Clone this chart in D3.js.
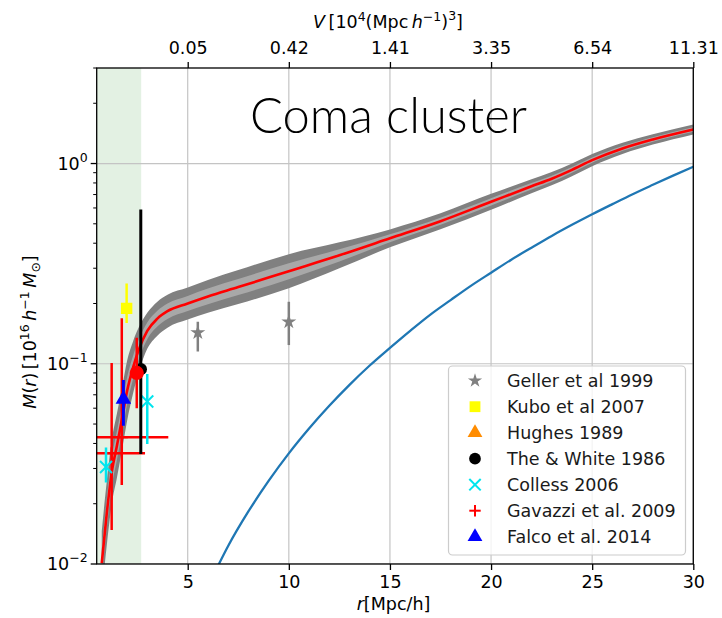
<!DOCTYPE html>
<html>
<head>
<meta charset="utf-8">
<script src="https://cdn.jsdelivr.net/npm/d3@7"></script>
<style>
  body { margin: 0; background: #fff; }
  svg { display: block; }
</style>
</head>
<body>
<svg id="chart" width="722" height="618"></svg>
<script>
// ---------- axis ticks ----------
const xTicks = [5, 10, 15, 20, 25, 30];
const topTickLabels = ["0.05", "0.42", "1.41", "3.35", "6.54", "11.31"];
const yMajorTicks = [0.01, 0.1, 1];
const yMajorExponents = ["−2", "−1", "0"];
const shadedRadius = 2.7;

// ---------- reconstructed mass profile (median and two confidence bands) ----------
const profR  = [0.75, 1.0, 1.25, 1.5, 1.75, 2.0, 2.3, 2.6, 3.0, 3.5, 4.0, 5.0, 6.0, 7.5, 10, 12.5, 15, 17.5, 20, 22, 23, 24, 25, 26.5, 28, 30];
const profM  = [0.0101, 0.018, 0.029, 0.039, 0.053, 0.073, 0.096, 0.119, 0.146, 0.168, 0.183, 0.20, 0.217, 0.2415, 0.29, 0.348, 0.423, 0.515, 0.644, 0.77, 0.84, 0.93, 1.04, 1.19, 1.32, 1.48];
const outerLo = [0.0070, 0.01245, 0.0201, 0.0270, 0.0371, 0.0517, 0.0712, 0.0924, 0.1187, 0.1382, 0.1515, 0.1664, 0.1796, 0.1986, 0.2385, 0.2997, 0.3814, 0.4699, 0.5876, 0.7103, 0.7785, 0.8643, 0.9701, 1.1153, 1.243, 1.3976];
const outerHi = [0.0146, 0.026, 0.0419, 0.0564, 0.0757, 0.1031, 0.1295, 0.1533, 0.1796, 0.2043, 0.2211, 0.2404, 0.2621, 0.2937, 0.3526, 0.404, 0.469, 0.5644, 0.7058, 0.8347, 0.9064, 1.0007, 1.1149, 1.2697, 1.4018, 1.5672];
const innerLo = [0.00856, 0.01525, 0.0246, 0.0331, 0.0451, 0.0624, 0.084, 0.1061, 0.1325, 0.1533, 0.1673, 0.1833, 0.1984, 0.2203, 0.2646, 0.3246, 0.404, 0.4942, 0.618, 0.7418, 0.8116, 0.9003, 1.0097, 1.1576, 1.2865, 1.4425];
const innerHi = [0.0119, 0.0212, 0.0342, 0.046, 0.0623, 0.0853, 0.1097, 0.1335, 0.1609, 0.1841, 0.2002, 0.2182, 0.2374, 0.2647, 0.3178, 0.373, 0.4429, 0.5366, 0.671, 0.7993, 0.8694, 0.9607, 1.0712, 1.2233, 1.3543, 1.5185];

// ---------- mean-density (background) mass ----------
const bgR = [6.5, 7, 8, 9, 10, 11, 12, 13, 14, 15, 16, 17, 18, 19, 20, 21, 22, 23, 24, 25, 26, 27, 28, 29, 30];
const bgM = [0.0098, 0.0123, 0.0183, 0.026, 0.0357, 0.0475, 0.0617, 0.0785, 0.098, 0.12, 0.146, 0.176, 0.208, 0.245, 0.285, 0.331, 0.38, 0.435, 0.494, 0.558, 0.627, 0.703, 0.783, 0.87, 0.964];

// ---------- literature measurements ----------
const gellerR = [5.5, 10.0], gellerM = [0.143, 0.162], gellerLo = [0.115, 0.124], gellerHi = [0.162, 0.204];
const kuboR = [1.98], kuboM = [0.189], kuboLo = [0.16], kuboHi = [0.252];
const theWhiteR = [2.68], theWhiteM = [0.094], theWhiteLo = [0.0354], theWhiteHi = [0.59];
const redDotR = [2.48], redDotM = [0.090], redDotLo = [0.06], redDotHi = [0.135];
const collessR = [0.96, 3.0], collessM = [0.0305, 0.0648], collessLo = [0.0255, 0.0397], collessHi = [0.0382, 0.089];
const gavazziR = [1.74, 1.24], gavazziM = [0.0429, 0.0357], gavazziLo = [0.0248, 0.0148], gavazziHi = [0.1686, 0.101], gavazziRErr = [2.3, 1.65];
const falcoR = [1.82], falcoM = [0.0672], falcoLo = [0.049], falcoHi = [0.083];

const legendLabels = ["Geller et al 1999", "Kubo et al 2007", "Hughes 1989", "The & White 1986", "Colless 2006", "Gavazzi et al. 2009", "Falco et al. 2014"];
const legendKinds  = ["star", "square", "triangle", "circle", "x", "plus", "triangle"];
const legendColors = ["#808080", "#ffff00", "#ff8c00", "#000000", "#00e5ee", "#ff0000", "#0000ff"];

// ---------- layout ----------
const svg = d3.select("#chart");
const L = 96.7, R = 693.3, T = 68, B = 564;
const font = "DejaVu Sans, sans-serif";
const fs = 17.5;

const x = d3.scaleLinear().domain([0.5, 30]).range([L, R]);
const y = d3.scaleLog().domain([0.01, 3]).range([B, T]);

svg.append("defs").append("clipPath").attr("id", "plot")
  .append("rect").attr("x", L).attr("y", T).attr("width", R - L).attr("height", B - T);

const plot = svg.append("g").attr("clip-path", "url(#plot)");

// shaded inner region
plot.append("rect")
  .attr("x", x(0.5)).attr("y", T)
  .attr("width", x(shadedRadius) - x(0.5)).attr("height", B - T)
  .attr("fill", "rgb(0,128,0)").attr("fill-opacity", 0.11);

// grid
plot.selectAll(".gx").data(xTicks).join("line")
  .attr("x1", d => x(d)).attr("x2", d => x(d)).attr("y1", T).attr("y2", B)
  .attr("stroke", "#c4c4c4").attr("stroke-width", 1.2);
plot.selectAll(".gy").data(yMajorTicks).join("line")
  .attr("x1", L).attr("x2", R).attr("y1", d => y(d)).attr("y2", d => y(d))
  .attr("stroke", "#c4c4c4").attr("stroke-width", 1.2);

// confidence bands
const idx = d3.range(profR.length);
const band = (lo, hi) => d3.area()
  .x(i => x(profR[i])).y0(i => y(lo[i])).y1(i => y(hi[i]))
  .curve(d3.curveMonotoneX);
plot.append("path").datum(idx).attr("d", band(outerLo, outerHi)).attr("fill", "#808080");
plot.append("path").datum(idx).attr("d", band(innerLo, innerHi)).attr("fill", "#a8a8a8");

// median profile
plot.append("path").datum(idx)
  .attr("d", d3.line().x(i => x(profR[i])).y(i => y(profM[i])).curve(d3.curveMonotoneX))
  .attr("fill", "none").attr("stroke", "#ff0000").attr("stroke-width", 2.6);

// background mass
plot.append("path").datum(d3.range(bgR.length))
  .attr("d", d3.line().x(i => x(bgR[i])).y(i => y(bgM[i])).curve(d3.curveMonotoneX))
  .attr("fill", "none").attr("stroke", "#1f77b4").attr("stroke-width", 2.3);

// marker helper
function marker(g, kind, cx, cy, color, s) {
  s = s || 1;
  if (kind === "x" || kind === "plus") {
    const h = 6 * s;
    const segs = kind === "x"
      ? [[-h, -h, h, h], [-h, h, h, -h]]
      : [[-h, 0, h, 0], [0, -h, 0, h]];
    segs.forEach(p => g.append("line")
      .attr("x1", cx + p[0]).attr("y1", cy + p[1]).attr("x2", cx + p[2]).attr("y2", cy + p[3])
      .attr("stroke", color).attr("stroke-width", 2));
    return;
  }
  const types = { star: [d3.symbolStar, 70], square: [d3.symbolSquare, 130], triangle: [d3.symbolTriangle, 105], circle: [d3.symbolCircle, 120] };
  const t = types[kind];
  g.append("path")
    .attr("d", d3.symbol().type(t[0]).size(t[1] * s * s)())
    .attr("transform", `translate(${cx},${cy})`)
    .attr("fill", color);
}

function vbar(g, r, lo, hi, color, w) {
  g.append("line").attr("x1", x(r)).attr("x2", x(r)).attr("y1", y(lo)).attr("y2", y(hi))
    .attr("stroke", color).attr("stroke-width", w || 2.5);
}

const pts = plot.append("g");

// Geller
gellerR.forEach((r, i) => {
  vbar(pts, r, gellerLo[i], gellerHi[i], "#808080");
  marker(pts, "star", x(r), y(gellerM[i]), "#808080");
});
// Kubo
kuboR.forEach((r, i) => {
  vbar(pts, r, kuboLo[i], kuboHi[i], "#ffff00");
  marker(pts, "square", x(r), y(kuboM[i]), "#ffff00");
});
// Gavazzi (error crosses in both radius and mass)
gavazziR.forEach((r, i) => {
  vbar(pts, r, gavazziLo[i], gavazziHi[i], "#ff0000");
  pts.append("line")
    .attr("x1", x(r - gavazziRErr[i])).attr("x2", x(r + gavazziRErr[i]))
    .attr("y1", y(gavazziM[i])).attr("y2", y(gavazziM[i]))
    .attr("stroke", "#ff0000").attr("stroke-width", 2.5);
  marker(pts, "plus", x(r), y(gavazziM[i]), "#ff0000");
});
// Colless
collessR.forEach((r, i) => {
  vbar(pts, r, collessLo[i], collessHi[i], "#00e5ee");
  marker(pts, "x", x(r), y(collessM[i]), "#00e5ee");
});
// Falco
falcoR.forEach((r, i) => {
  vbar(pts, r, falcoLo[i], falcoHi[i], "#0000ff", 3);
  marker(pts, "triangle", x(r), y(falcoM[i]) + 1, "#0000ff");
});
// The & White
theWhiteR.forEach((r, i) => {
  vbar(pts, r, theWhiteLo[i], theWhiteHi[i], "#000000", 3);
  marker(pts, "circle", x(r), y(theWhiteM[i]), "#000000");
});
// red point with its own error bar
redDotR.forEach((r, i) => {
  vbar(pts, r, redDotLo[i], redDotHi[i], "#ff0000");
  marker(pts, "circle", x(r), y(redDotM[i]), "#ff0000", 1.15);
});

// ---------- axes ----------
const axisStyle = g => {
  g.selectAll("path.domain").remove();
  g.selectAll("line").attr("stroke", "#000").attr("stroke-width", 1.3);
  g.selectAll("text").attr("font-family", font).attr("font-size", fs).attr("fill", "#000");
};

svg.append("g").attr("transform", `translate(0,${B})`)
  .call(d3.axisBottom(x).tickValues(xTicks).tickFormat(d3.format("d")).tickSize(6).tickPadding(6))
  .call(axisStyle);

svg.append("g").attr("transform", `translate(0,${T})`)
  .call(d3.axisTop(x).tickValues(xTicks).tickFormat((d, i) => topTickLabels[i]).tickSize(6).tickPadding(8))
  .call(axisStyle);

// left axis: major + minor ticks
const yAll = y.ticks();
svg.append("g").selectAll("line").data(yAll).join("line")
  .attr("x1", d => yMajorTicks.includes(d) ? L - 6 : L - 3.5).attr("x2", L)
  .attr("y1", d => y(d)).attr("y2", d => y(d))
  .attr("stroke", "#000").attr("stroke-width", d => yMajorTicks.includes(d) ? 1.3 : 1);

const yl = svg.append("g").attr("font-family", font).attr("font-size", fs);
yMajorTicks.forEach((v, i) => {
  const t = yl.append("text").attr("x", L - 9).attr("y", y(v) + 6).attr("text-anchor", "end");
  t.append("tspan").text("10");
  t.append("tspan").attr("dy", -8).attr("font-size", 12.5).text(yMajorExponents[i]);
});

// spines
svg.append("rect").attr("x", L).attr("y", T).attr("width", R - L).attr("height", B - T)
  .attr("fill", "none").attr("stroke", "#000").attr("stroke-width", 1.3);

// ---------- axis labels ----------
const xl = svg.append("text").attr("x", 393.5).attr("y", 610)
  .attr("text-anchor", "middle").attr("font-family", font).attr("font-size", fs);
xl.append("tspan").attr("font-style", "italic").text("r");
xl.append("tspan").text("[Mpc/h]");

const tl = svg.append("text").attr("x", 388).attr("y", 28)
  .attr("text-anchor", "middle").attr("font-family", font).attr("font-size", fs);
tl.append("tspan").attr("font-style", "italic").text("V");
tl.append("tspan").text("\u2009[10");
tl.append("tspan").attr("dy", -7).attr("font-size", 12.5).text("4");
tl.append("tspan").attr("dy", 7).text("(Mpc\u2009");
tl.append("tspan").attr("font-style", "italic").text("h");
tl.append("tspan").attr("dy", -7).attr("font-size", 12.5).text("−1");
tl.append("tspan").attr("dy", 7).text(")");
tl.append("tspan").attr("dy", -8).attr("font-size", 12.5).text("3");
tl.append("tspan").attr("dy", 8).text("]");

const ylab = svg.append("text").attr("transform", `translate(36,332) rotate(-90)`)
  .attr("text-anchor", "middle").attr("font-family", font).attr("font-size", fs);
ylab.append("tspan").attr("font-style", "italic").text("M");
ylab.append("tspan").text("(");
ylab.append("tspan").attr("font-style", "italic").text("r");
ylab.append("tspan").text(")\u2009[10");
ylab.append("tspan").attr("dy", -7).attr("font-size", 12.5).text("16");
ylab.append("tspan").attr("dy", 7).attr("font-style", "italic").text("\u2009h");
ylab.append("tspan").attr("dy", -7).attr("font-size", 12.5).text("−1");
ylab.append("tspan").attr("dy", 7).attr("font-style", "italic").text("\u2009M");
ylab.append("tspan").attr("dy", 4).attr("font-size", 12.5).text("⊙");
ylab.append("tspan").attr("dy", -4).text("]");

// ---------- title ----------
svg.append("text").attr("x", 388.5).attr("y", 133)
  .attr("text-anchor", "middle")
  .attr("font-family", "Lato, 'Open Sans', sans-serif").attr("font-weight", 300)
  .attr("font-size", 49).attr("textLength", 277).attr("lengthAdjust", "spacingAndGlyphs")
  .text("Coma cluster");

// ---------- legend ----------
const lg = svg.append("g");
lg.append("rect").attr("x", 448.5).attr("y", 366).attr("width", 237).attr("height", 189)
  .attr("rx", 4).attr("fill", "#fff").attr("fill-opacity", 0.8)
  .attr("stroke", "#cccccc").attr("stroke-width", 1.2);
legendLabels.forEach((lab, i) => {
  const cy = 380.7 + i * 26;
  marker(lg, legendKinds[i], 475, cy, legendColors[i], 0.95);
  lg.append("text").attr("x", 507).attr("y", cy + 6.3)
    .attr("font-family", font).attr("font-size", fs).attr("fill", "#1a1a1a").text(lab);
});
</script>
</body>
</html>
